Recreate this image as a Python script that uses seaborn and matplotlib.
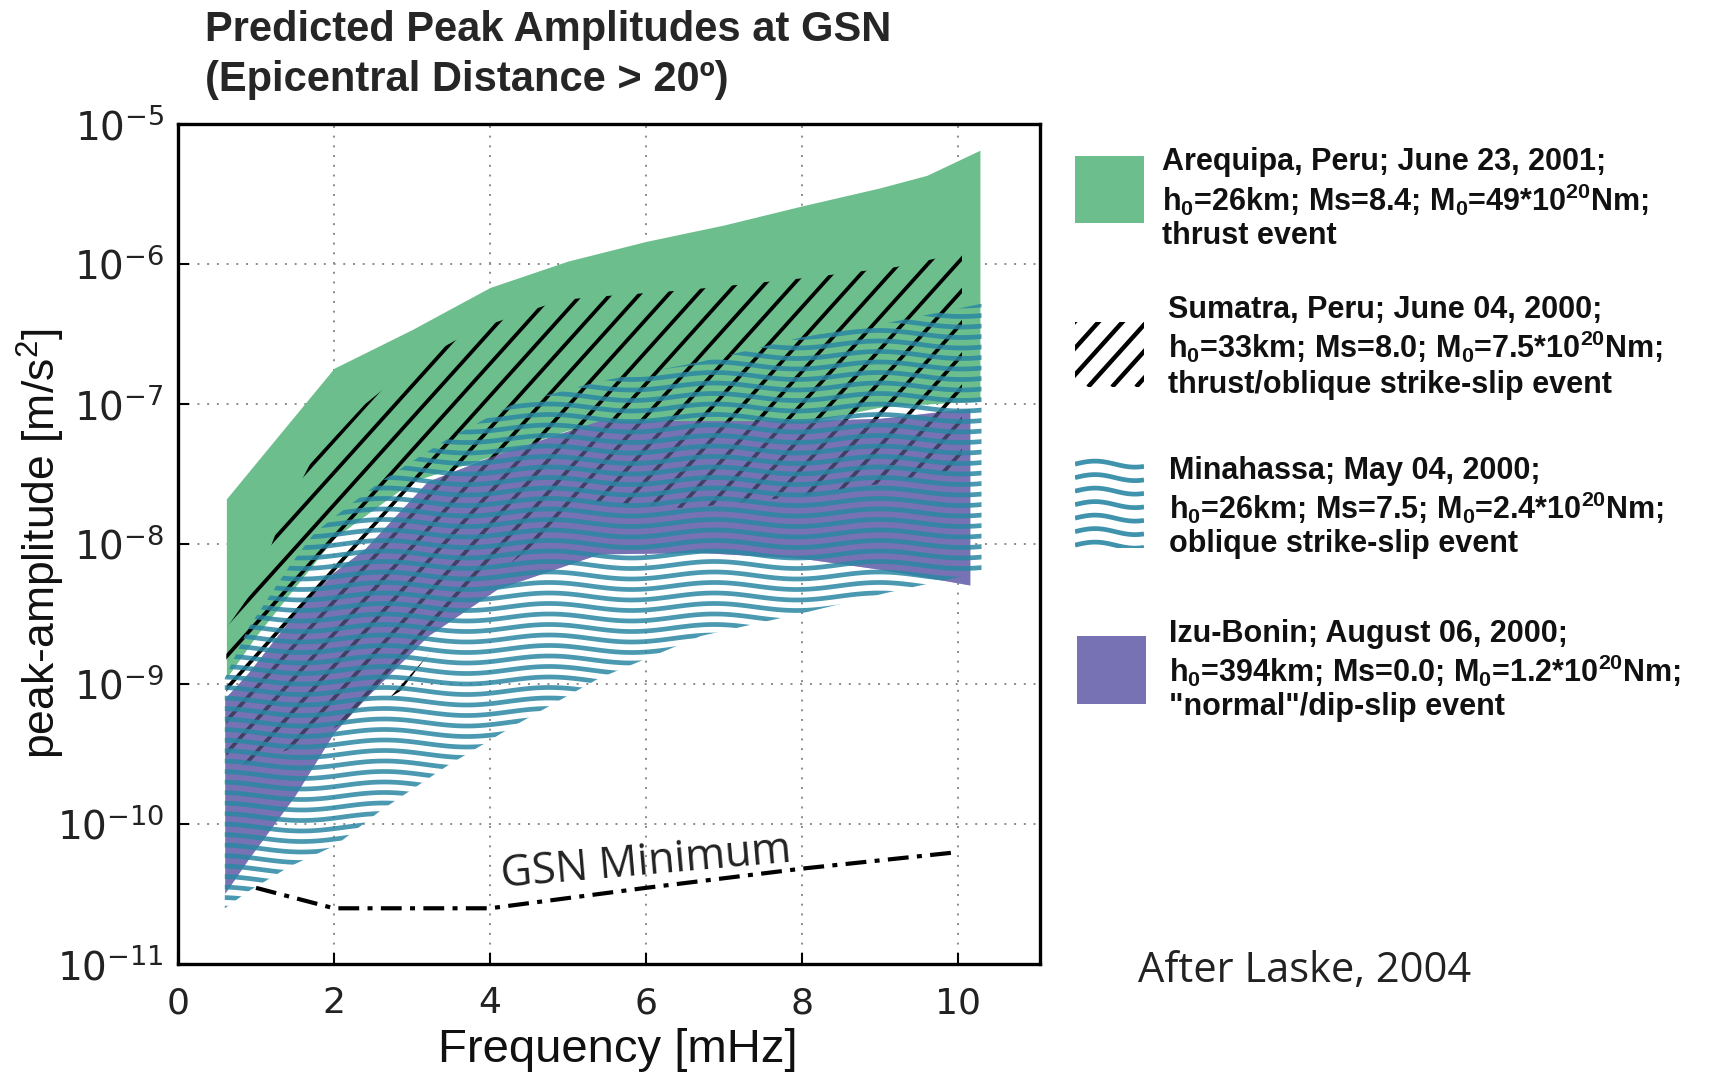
import numpy as np
import pandas as pd
import matplotlib
matplotlib.use("Agg")
import matplotlib.pyplot as plt
import seaborn as sns
from matplotlib.collections import LineCollection
from matplotlib.ticker import NullLocator

# ---------------- data ----------------
# Arequipa, Peru (green band)
are_x = [0.62, 1.0, 2.0, 3.0, 4.0, 5.0, 6.0, 7.0, 8.0, 9.0, 9.6, 10.28]
are_hi = [2.1e-8, 3.8e-8, 1.8e-7, 3.4e-7, 6.8e-7, 1.05e-6, 1.45e-6, 1.9e-6, 2.6e-6, 3.5e-6, 4.3e-6, 6.5e-6]
are_lo = [1.1e-9, 2.2e-9, 1.1e-8, 2.8e-8, 4.2e-8, 6.5e-8, 7.0e-8, 7.0e-8, 7.3e-8, 9.5e-8, 1.0e-7, 1.05e-7]

# Sumatra (black diagonal hatch)
sum_x = [0.62, 1.0, 1.3, 1.7, 2.4, 2.85, 3.2, 3.8, 4.9, 5.3, 6.5, 8.0, 9.2, 10.05]
sum_hi = [2.5e-9, 5.0e-9, 1.4e-8, 3.8e-8, 1.0e-7, 1.6e-7, 2.2e-7, 3.4e-7, 5.5e-7, 5.8e-7, 6.5e-7, 7.9e-7, 9.5e-7, 1.2e-6]
sum_lo = [2.5e-10, 2.8e-10, 3.2e-10, 4.0e-10, 6.3e-10, 8.9e-10, 1.6e-9, 4.5e-9, 1.4e-8, 2.0e-8, 1.8e-8, 2.2e-8, 2.8e-8, 3.5e-8]

# Minahassa (teal wavy lines)
min_x = [0.6, 0.9, 1.44, 1.75, 2.03, 2.6, 3.45, 4.3, 5.4, 6.7, 8.0, 9.1, 10.3]
min_hi = [1.1e-9, 2.5e-9, 7.1e-9, 1.2e-8, 1.6e-8, 2.8e-8, 5.6e-8, 1.0e-7, 1.45e-7, 2.0e-7, 3.0e-7, 3.8e-7, 5.2e-7]
min_lo = [2.5e-11, 3.3e-11, 5.0e-11, 6.0e-11, 7.1e-11, 1.25e-10, 2.6e-10, 5.0e-10, 1.1e-9, 2.2e-9, 3.2e-9, 4.5e-9, 6.3e-9]

# Izu-Bonin (purple band)
izu_x = [0.6, 0.9, 1.5, 2.0, 2.4, 3.2, 4.1, 5.4, 6.7, 8.0, 9.0, 10.15]
izu_hi = [7.9e-10, 1.2e-9, 3.2e-9, 6.3e-9, 9.3e-9, 2.8e-8, 4.4e-8, 7.6e-8, 7.6e-8, 7.6e-8, 7.9e-8, 9.3e-8]
izu_lo = [3.2e-11, 5.6e-11, 1.6e-10, 4.5e-10, 7.9e-10, 2.2e-9, 4.8e-9, 8.5e-9, 8.7e-9, 7.9e-9, 6.6e-9, 5.1e-9]

# GSN minimum
gsn_x = [1, 2, 4, 6, 8, 10]
gsn_y = [3.5e-11, 2.5e-11, 2.5e-11, 3.5e-11, 4.8e-11, 6.3e-11]

x_ticks = [0, 2, 4, 6, 8, 10]
y_exps = [-11, -10, -9, -8, -7, -6, -5]

legend_lines = [
    ["Arequipa, Peru; June 23, 2001;",
     r"h$_\mathregular{0}$=26km; Ms=8.4; M$_\mathregular{0}$=49*10$^\mathregular{20}$Nm;",
     "thrust event"],
    ["Sumatra, Peru; June 04, 2000;",
     r"h$_\mathregular{0}$=33km; Ms=8.0; M$_\mathregular{0}$=7.5*10$^\mathregular{20}$Nm;",
     "thrust/oblique strike-slip event"],
    ["Minahassa; May 04, 2000;",
     r"h$_\mathregular{0}$=26km; Ms=7.5; M$_\mathregular{0}$=2.4*10$^\mathregular{20}$Nm;",
     "oblique strike-slip event"],
    ["Izu-Bonin; August 06, 2000;",
     r"h$_\mathregular{0}$=394km; Ms=0.0; M$_\mathregular{0}$=1.2*10$^\mathregular{20}$Nm;",
     "\"normal\"/dip-slip event"],
]

GREEN = "#6cbf8c"
PURPLE = "#7672b4"
TEAL = "#2a87a3"

# ---------------- style ----------------
sns.set_theme(style="white")
plt.rcParams["font.family"] = ["Liberation Sans", "DejaVu Sans"]

FW, FH = 1724, 1073
fig = plt.figure(figsize=(FW / 100, FH / 100), dpi=100)
AX_L, AX_B, AX_W, AX_H = 178, 964, 862, 840
ax = fig.add_axes([AX_L / FW, 1 - AX_B / FH, AX_W / FW, AX_H / FH])
ax.set_yscale("log")
ax.set_xlim(0, 11.05)
ax.set_ylim(1e-11, 1e-5)


def wave_segments(width_px, height_px, spacing, period, amp, x0=0.0, x1=1.0, y0=-0.05, y1=1.05):
    xs = np.linspace(x0, x1, 500)
    segs = []
    for yb in np.arange(y0, y1, spacing / height_px):
        ys = yb + amp / height_px * np.sin(2 * np.pi * xs * width_px / period)
        segs.append(np.column_stack([xs, ys]))
    return segs


def hatch_segments(width_px, height_px, spacing, angle_deg):
    k = np.tan(np.radians(angle_deg)) * width_px / height_px
    segs = []
    for c in np.arange(-1.3 / k - 0.1, 1.1, spacing / width_px):
        segs.append(np.array([[c, 0.0], [c + 1.3 / k, 1.3]]))
    return segs


# green band
ax.fill_between(are_x, are_lo, are_hi, color=GREEN, lw=0, zorder=1)
# purple band
ax.fill_between(izu_x, izu_lo, izu_hi, color=PURPLE, lw=0, zorder=2)
# Sumatra hatch
hp = ax.fill_between(sum_x, sum_lo, sum_hi, facecolor="none", edgecolor="none", zorder=3)
lc = LineCollection(hatch_segments(AX_W, AX_H, 29, 48), colors="black", linewidths=2.7,
                    transform=ax.transAxes, zorder=3, capstyle="butt")
ax.add_collection(lc, autolim=False)
lc.set_clip_path(hp.get_paths()[0], ax.transData)
# purple veil over hatch
ax.fill_between(izu_x, izu_lo, izu_hi, color=PURPLE, alpha=0.55, lw=0, zorder=4)
# Minahassa waves
wp = ax.fill_between(min_x, min_lo, min_hi, facecolor="none", edgecolor="none", zorder=5)
wc = LineCollection(wave_segments(AX_W, AX_H, 10.5, 165, 3.5), colors=TEAL, linewidths=3.4,
                    alpha=0.85, transform=ax.transAxes, zorder=5)
ax.add_collection(wc, autolim=False)
wc.set_clip_path(wp.get_paths()[0], ax.transData)

# GSN minimum
sns.lineplot(x=gsn_x, y=gsn_y, ax=ax, color="black", lw=3.0,
             linestyle=(0, (5, 2, 1.2, 2)), zorder=6)
ax.text(6.0, 5.3e-11, "GSN Minimum", rotation=5, ha="center", va="center",
        fontsize=31, family=["Open Sans", "DejaVu Sans"], color="#222222", zorder=7)

# grid, ticks, spines
ax.set_axisbelow(True)
ax.grid(True, which="major", color="#8a8a8a", linestyle=(0, (1, 4)), linewidth=1.4)
ax.set_xticks(x_ticks)
ax.set_xticklabels([str(t) for t in x_ticks], fontfamily="DejaVu Sans", fontsize=26)
ax.set_yticks([10.0 ** e for e in y_exps])
ax.set_yticklabels([r"10$^{\mathregular{%d}}$" % e for e in y_exps],
                   fontfamily="DejaVu Sans", fontsize=28)
ax.yaxis.set_minor_locator(NullLocator())
ax.tick_params(axis="both", which="major", direction="in", length=8, width=1.5,
               color="black", bottom=True, left=True, labelcolor="#222222")
ax.tick_params(axis="x", pad=16)
ax.tick_params(axis="y", pad=10)
for s in ax.spines.values():
    s.set_linewidth(2.4)
    s.set_color("black")
    s.set_zorder(8)

ax.set_xlabel("Frequency [mHz]", fontsize=34, color="#111111")
ax.xaxis.set_label_coords((618 - AX_L) / AX_W, (AX_B - 1050) / AX_H)
ax.xaxis.label.set_va("center")
ax.set_ylabel(r"peak-amplitude [m/s$^\mathregular{2}$]", fontsize=32, color="#111111")
ax.yaxis.set_label_coords((41 - AX_L) / AX_W, (AX_B - 544) / AX_H)
ax.yaxis.label.set_va("center")

# title
fig.text(205 / FW, 1 - 30 / FH, "Predicted Peak Amplitudes at GSN", fontsize=30,
         weight="bold", va="center", ha="left")
fig.text(205 / FW, 1 - 80 / FH, "(Epicentral Distance > 20º)", fontsize=30,
         weight="bold", va="center", ha="left")

# legend (manual)
def swatch_ax(x0, y0, x1, y1):
    a = fig.add_axes([x0 / FW, 1 - y1 / FH, (x1 - x0) / FW, (y1 - y0) / FH])
    a.set_xlim(0, 1)
    a.set_ylim(0, 1)
    a.axis("off")
    return a

s1 = swatch_ax(1075, 156, 1144, 223)
s1.fill_between([0, 1], [0, 0], [1, 1], color=GREEN, lw=0)

s2 = swatch_ax(1075, 322, 1144, 387)
hs = LineCollection(hatch_segments(69, 65, 24, 48), colors="black", linewidths=3.2,
                    transform=s2.transAxes, capstyle="butt")
s2.add_collection(hs, autolim=False)

s3 = swatch_ax(1075, 452, 1144, 548)
ws = LineCollection(wave_segments(69, 96, 13.5, 80, 3.0, y0=0.03, y1=1.0), colors=TEAL,
                    linewidths=3.4, alpha=0.9, transform=s3.transAxes)
s3.add_collection(ws, autolim=False)

s4 = swatch_ax(1077, 636, 1146, 704)
s4.fill_between([0, 1], [0, 0], [1, 1], color=PURPLE, lw=0)

entry_x = [1162, 1168, 1169, 1169]
entry_y = [[162, 200, 236], [310, 347, 385], [471, 508, 544], [634, 671, 707]]
for lines, ex, eys in zip(legend_lines, entry_x, entry_y):
    for txt, ey in zip(lines, eys):
        fig.text(ex / FW, 1 - ey / FH, txt, fontsize=22, weight="bold",
                 va="center", ha="left", color="#111111")

fig.text(1305 / FW, 1 - 971 / FH, "After Laske, 2004", fontsize=30,
         family=["Open Sans", "DejaVu Sans"], va="center", ha="center", color="#222222")

fig.savefig("out.png", dpi=100)
